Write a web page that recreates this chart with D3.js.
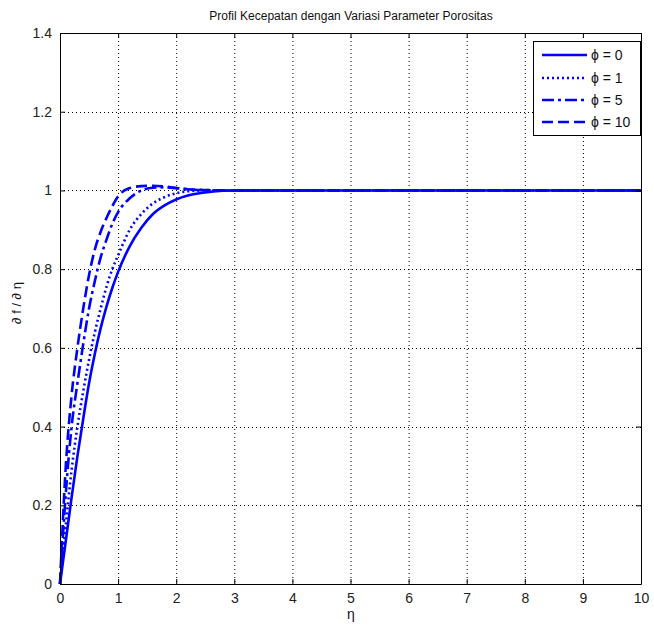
<!DOCTYPE html>
<html>
<head>
<meta charset="utf-8">
<script src="https://cdn.jsdelivr.net/npm/d3@7"></script>
<style>
  body { margin: 0; background: #fff; }
  text { font-family: "Liberation Sans", Arial, sans-serif; fill: #111; }
</style>
</head>
<body>
<svg id="chart" width="654" height="630"></svg>
<script>
// Velocity profile f'(eta) for several porosity parameters.
const eta = [0, 0.1, 0.2, 0.3, 0.4, 0.5, 0.6, 0.7, 0.8, 0.9, 1.0, 1.2, 1.4, 1.6, 1.8, 2.0, 2.2, 2.5, 2.8, 3, 4, 5, 6, 7, 8, 9, 10];
const phi0  = [0, 0.11, 0.22, 0.325, 0.42, 0.51, 0.585, 0.65, 0.705, 0.752, 0.793, 0.858, 0.905, 0.94, 0.962, 0.977, 0.987, 0.995, 0.999, 1, 1, 1, 1, 1, 1, 1, 1];
const phi1  = [0, 0.15, 0.29, 0.40, 0.49, 0.57, 0.64, 0.70, 0.755, 0.80, 0.835, 0.90, 0.94, 0.967, 0.983, 0.993, 0.998, 1.0, 1.0, 1, 1, 1, 1, 1, 1, 1, 1];
const phi5  = [0, 0.23, 0.40, 0.51, 0.61, 0.70, 0.77, 0.83, 0.875, 0.915, 0.945, 0.98, 1.0, 1.007, 1.008, 1.006, 1.003, 1.001, 1.0, 1, 1, 1, 1, 1, 1, 1, 1];
const phi10 = [0, 0.30, 0.48, 0.60, 0.70, 0.785, 0.85, 0.895, 0.93, 0.96, 0.985, 1.006, 1.011, 1.012, 1.01, 1.006, 1.003, 1.001, 1.0, 1, 1, 1, 1, 1, 1, 1, 1];

const seriesNames = ["\u03d5 = 0", "\u03d5 = 1", "\u03d5 = 5", "\u03d5 = 10"];
const seriesValues = [phi0, phi1, phi5, phi10];
const dashes = [null, "2,3", "12,4,3,4", "11,5"];

const xTicks = [0, 1, 2, 3, 4, 5, 6, 7, 8, 9, 10];
const yTicks = [0, 0.2, 0.4, 0.6, 0.8, 1, 1.2, 1.4];

const svg = d3.select("#chart");
const plotLeft = 60, plotRight = 641, plotTop = 33, plotBottom = 584;

const x = d3.scaleLinear().domain([0, 10]).range([plotLeft, plotRight]);
const y = d3.scaleLinear().domain([0, 1.4]).range([plotBottom, plotTop]);

// Dotted grid, like MATLAB "grid on".
const grid = svg.append("g").attr("stroke", "#000").attr("stroke-dasharray", "1,3").attr("stroke-width", 1);
grid.selectAll(".gx").data(xTicks.slice(1, -1)).join("line")
  .attr("x1", (d) => x(d) + 0.5).attr("x2", (d) => x(d) + 0.5)
  .attr("y1", plotTop).attr("y2", plotBottom);
grid.selectAll(".gy").data(yTicks.slice(1, -1)).join("line")
  .attr("y1", (d) => Math.round(y(d)) + 0.5).attr("y2", (d) => Math.round(y(d)) + 0.5)
  .attr("x1", plotLeft).attr("x2", plotRight);

// Curves.
const line = d3.line().x((d) => x(d[0])).y((d) => y(d[1])).curve(d3.curveMonotoneX);
svg.append("g").selectAll("path")
  .data(seriesValues)
  .join("path")
  .attr("d", (vals) => line(eta.map((e, i) => [e, vals[i]])))
  .attr("fill", "none")
  .attr("stroke", "#0000ff")
  .attr("stroke-width", 2.6)
  .attr("stroke-dasharray", (d, i) => dashes[i]);

// Axes with inward ticks on all four sides.
const tickFmt = (d) => d3.format("~g")(d);
svg.append("g").attr("transform", `translate(0,${plotBottom})`)
  .call(d3.axisBottom(x).tickValues(xTicks).tickSizeInner(-5).tickSizeOuter(0).tickPadding(9).tickFormat(tickFmt));
svg.append("g").attr("transform", `translate(${plotLeft},0)`)
  .call(d3.axisLeft(y).tickValues(yTicks).tickSizeInner(-5).tickSizeOuter(0).tickPadding(8).tickFormat(tickFmt));
svg.append("g").attr("transform", `translate(0,${plotTop})`)
  .call(d3.axisTop(x).tickValues(xTicks).tickSizeInner(-5).tickSizeOuter(0).tickFormat(""));
svg.append("g").attr("transform", `translate(${plotRight},0)`)
  .call(d3.axisRight(y).tickValues(yTicks).tickSizeInner(-5).tickSizeOuter(0).tickFormat(""));
svg.selectAll(".domain, .tick line").attr("stroke", "#000");
svg.selectAll(".tick text").style("font-size", "14px").style("fill", "#222");

// Title and axis labels.
svg.append("text").attr("x", 351).attr("y", 20).attr("text-anchor", "middle")
  .style("font-size", "12px").text("Profil Kecepatan dengan Variasi Parameter Porositas");
svg.append("text").attr("x", 351).attr("y", 619).attr("text-anchor", "middle")
  .style("font-size", "14px").text("\u03b7");
svg.append("text").attr("transform", "translate(21,303) rotate(-90)").attr("text-anchor", "middle")
  .style("font-size", "13px").text("\u2202 f / \u2202 \u03b7");

// Legend.
const legend = svg.append("g");
legend.append("rect").attr("x", 533.5).attr("y", 41.5).attr("width", 107).attr("height", 94)
  .attr("fill", "#fff").attr("stroke", "#000");
const rowY = [55, 78, 100, 122];
const item = legend.selectAll(".item").data(seriesNames).join("g")
  .attr("transform", (d, i) => `translate(0,${rowY[i]})`);
item.append("line").attr("x1", 542).attr("x2", 587)
  .attr("stroke", "#0000ff").attr("stroke-width", 2.6)
  .attr("stroke-dasharray", (d, i) => dashes[i]);
item.append("text").attr("x", 591).attr("y", 5).style("font-size", "14px").text((d) => d);
</script>
</body>
</html>
